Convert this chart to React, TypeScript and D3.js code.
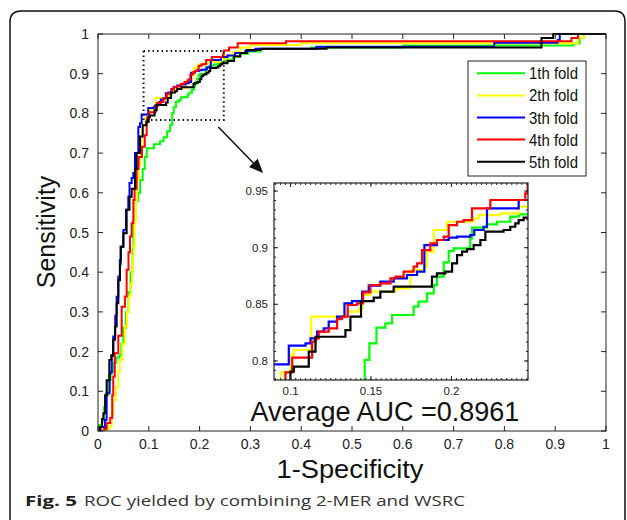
import React from 'react';
import * as d3 from 'd3';

// ROC points per fold: [1-specificity, sensitivity], drawn as steps
const fold1 = [
  [0, 0], [0.002, 0.015], [0.008, 0.025], [0.012, 0.06], [0.016, 0.09], [0.02, 0.128], [0.025, 0.15],
  [0.03, 0.172], [0.036, 0.185], [0.042, 0.19], [0.046, 0.22], [0.05, 0.26], [0.055, 0.3], [0.06, 0.35],
  [0.064, 0.4], [0.068, 0.46], [0.07, 0.53], [0.074, 0.58], [0.079, 0.6], [0.083, 0.632], [0.088, 0.66],
  [0.092, 0.69], [0.096, 0.712], [0.11, 0.722], [0.122, 0.73], [0.129, 0.74], [0.136, 0.755], [0.142, 0.771],
  [0.1461, 0.8009], [0.149, 0.8156], [0.1534, 0.8294], [0.1589, 0.8332], [0.1631, 0.8406], [0.1765, 0.8479],
  [0.1796, 0.8523], [0.1848, 0.8597], [0.189, 0.867], [0.191, 0.8744], [0.1952, 0.887], [0.1983, 0.897],
  [0.2014, 0.8994], [0.2117, 0.9082], [0.2128, 0.9177], [0.2221, 0.9206], [0.2283, 0.9229], [0.2366, 0.9274],
  [0.2418, 0.9294], [0.252, 0.935], [0.265, 0.942], [0.28, 0.95], [0.295, 0.956], [0.32, 0.962],
  [0.42, 0.966], [0.6, 0.971], [0.935, 0.976], [0.948, 0.99], [0.956, 1], [1, 1],
];
const fold2 = [
  [0, 0], [0.015, 0.005], [0.022, 0.012], [0.027, 0.04], [0.03, 0.078], [0.035, 0.11], [0.04, 0.15],
  [0.043, 0.179], [0.048, 0.22], [0.053, 0.263], [0.057, 0.3], [0.0604, 0.339], [0.064, 0.37], [0.067, 0.405],
  [0.069, 0.44], [0.07, 0.464], [0.072, 0.531], [0.0748, 0.582], [0.077, 0.632], [0.08, 0.67], [0.083, 0.718],
  [0.086, 0.752], [0.089, 0.775], [0.094, 0.79], [0.0999, 0.8053], [0.102, 0.8097], [0.1128, 0.8391],
  [0.1355, 0.8435], [0.1424, 0.8465], [0.1445, 0.8582], [0.1496, 0.8612], [0.1652, 0.8641], [0.1745, 0.8803],
  [0.1828, 0.8832], [0.1848, 0.8965], [0.189, 0.9156], [0.1972, 0.9229], [0.2138, 0.9259], [0.2169, 0.9288],
  [0.2304, 0.9303], [0.2418, 0.9362], [0.252, 0.945], [0.265, 0.955], [0.28, 0.966], [0.3, 0.972],
  [0.4, 0.977], [0.945, 0.99], [0.956, 1], [1, 1],
];
const fold3 = [
  [0, 0], [0.005, 0.01], [0.0138, 0.028], [0.017, 0.095], [0.023, 0.146], [0.027, 0.19], [0.03, 0.238],
  [0.034, 0.29], [0.0367, 0.338], [0.04, 0.389], [0.043, 0.43], [0.045, 0.464], [0.0499, 0.506],
  [0.0551, 0.557], [0.0597, 0.59], [0.062, 0.625], [0.0663, 0.637], [0.0696, 0.65], [0.0728, 0.7],
  [0.0794, 0.766], [0.0827, 0.775], [0.0859, 0.797], [0.0989, 0.8135], [0.1093, 0.8156], [0.1124, 0.82],
  [0.1165, 0.8259], [0.1206, 0.8288], [0.1237, 0.8347], [0.1289, 0.8391], [0.1335, 0.8509], [0.1382, 0.8529],
  [0.1445, 0.8612], [0.1486, 0.8665], [0.1558, 0.87], [0.1641, 0.8729], [0.1724, 0.8759], [0.1786, 0.8788],
  [0.1832, 0.9023], [0.191, 0.9068], [0.1983, 0.9088], [0.2035, 0.9097], [0.2117, 0.9112], [0.2142, 0.9156],
  [0.22, 0.9185], [0.2221, 0.9347], [0.2418, 0.9421], [0.255, 0.946], [0.27, 0.952], [0.29, 0.958],
  [0.31, 0.963], [0.43, 0.968], [0.78, 0.978], [0.905, 0.985], [0.909, 1], [1, 1],
];
const fold4 = [
  [0, 0], [0.012, 0.005], [0.017, 0.02], [0.024, 0.033], [0.028, 0.09], [0.03, 0.137], [0.033, 0.196],
  [0.04, 0.24], [0.0466, 0.313], [0.053, 0.339], [0.0564, 0.406], [0.06, 0.45], [0.063, 0.49], [0.0663, 0.523],
  [0.0696, 0.582], [0.072, 0.61], [0.0761, 0.66], [0.08, 0.69], [0.0865, 0.716], [0.092, 0.745], [0.0958, 0.775],
  [0.0968, 0.79], [0.101, 0.8029], [0.1134, 0.817], [0.1155, 0.82], [0.1175, 0.8259], [0.1237, 0.8288],
  [0.1289, 0.837], [0.132, 0.8391], [0.1355, 0.8494], [0.1413, 0.8509], [0.1451, 0.8606], [0.1496, 0.867],
  [0.1558, 0.8685], [0.1621, 0.8729], [0.1652, 0.8744], [0.1703, 0.8788], [0.1765, 0.8832], [0.1786, 0.8862],
  [0.1817, 0.8979], [0.1869, 0.9038], [0.191, 0.9068], [0.1952, 0.9097], [0.1983, 0.92], [0.2035, 0.9229],
  [0.2076, 0.9244], [0.2128, 0.9347], [0.2242, 0.9421], [0.2459, 0.948], [0.2474, 0.9583], [0.258, 0.966],
  [0.275, 0.977], [0.37, 0.982], [0.932, 0.99], [0.945, 1], [1, 1],
];
const fold5 = [
  [0, 0], [0.004, 0.01], [0.008, 0.03], [0.0105, 0.0445], [0.014, 0.09], [0.017, 0.128], [0.0223, 0.179],
  [0.0262, 0.19], [0.03, 0.23], [0.0335, 0.263], [0.0367, 0.322], [0.04, 0.38], [0.0433, 0.42], [0.0446, 0.464],
  [0.0499, 0.498], [0.0564, 0.557], [0.062, 0.59], [0.0663, 0.61], [0.0728, 0.66], [0.0761, 0.7], [0.0827, 0.742],
  [0.088, 0.77], [0.095, 0.779], [0.0999, 0.7906], [0.102, 0.795], [0.1113, 0.8082], [0.1155, 0.8214],
  [0.1341, 0.8273], [0.1372, 0.8391], [0.1438, 0.8529], [0.1517, 0.8559], [0.1558, 0.8612], [0.1641, 0.8656],
  [0.1879, 0.8744], [0.191, 0.8773], [0.1962, 0.8788], [0.2004, 0.8862], [0.2035, 0.8935], [0.2066, 0.8965],
  [0.2097, 0.8988], [0.2138, 0.9023], [0.218, 0.9068], [0.2211, 0.9141], [0.2324, 0.9156], [0.2366, 0.9185],
  [0.2397, 0.9215], [0.2418, 0.9244], [0.2449, 0.9265], [0.255, 0.932], [0.268, 0.944], [0.28, 0.952],
  [0.293, 0.96], [0.32, 0.963], [0.45, 0.966], [0.873, 0.99], [0.896, 1], [1, 1],
];

const foldNames = ['1th fold', '2th fold', '3th fold', '4th fold', '5th fold'];
const foldColors = ['#00ff00', '#ffff00', '#0000ff', '#ff0000', '#000000'];
const folds = [fold1, fold2, fold3, fold4, fold5];

const axisTicks = [0, 0.1, 0.2, 0.3, 0.4, 0.5, 0.6, 0.7, 0.8, 0.9, 1];
const insetXTicks = [0.1, 0.15, 0.2];
const insetYTicks = [0.8, 0.85, 0.9, 0.95];
const insetXDomain = [0.0897, 0.2476];
const insetYDomain = [0.7832, 0.9571];
const aucText = 'Average AUC =0.8961';

const FONT = '"Liberation Sans", Arial, sans-serif';
const CAPTION_FONT = '"Open Sans", "Noto Sans", sans-serif';

export default function App() {
  const x = d3.scaleLinear().domain([0, 1]).range([98, 606]);
  const y = d3.scaleLinear().domain([0, 1]).range([431, 34]);
  const ix = d3.scaleLinear().domain(insetXDomain).range([274, 528]);
  const iy = d3.scaleLinear().domain(insetYDomain).range([380, 183]);

  const mainLine = d3.line<number[]>().x(d => x(d[0])).y(d => y(d[1])).curve(d3.curveStepAfter);
  const insetLine = d3.line<number[]>().x(d => ix(d[0])).y(d => iy(d[1])).curve(d3.curveStepAfter);

  const fmt = (v: number) => String(+v.toFixed(2));

  // minor ticks on the inset frame
  const mxStep = 0.05 / 16;
  const myStep = 0.05 / 6;
  const minorX = d3.range(Math.ceil(insetXDomain[0] / mxStep), Math.floor(insetXDomain[1] / mxStep) + 1).map(k => k * mxStep);
  const minorY = d3.range(Math.ceil(insetYDomain[0] / myStep), Math.floor(insetYDomain[1] / myStep) + 1).map(k => k * myStep);

  // arrow from zoom box to inset
  const a0 = [x(0.237), y(0.766)];
  const a1 = [x(0.325), y(0.65)];
  const ang = Math.atan2(a1[1] - a0[1], a1[0] - a0[0]);
  const hl = 14, hw = 6;
  const hb = [a1[0] - hl * Math.cos(ang), a1[1] - hl * Math.sin(ang)];
  const head = [
    a1,
    [hb[0] + hw * Math.sin(ang), hb[1] - hw * Math.cos(ang)],
    [hb[0] - hw * Math.sin(ang), hb[1] + hw * Math.cos(ang)],
  ];

  const zx0 = x(insetXDomain[0]);
  const zx1 = x(insetXDomain[1]);
  const zy0 = y(insetYDomain[1]);
  const zy1 = y(insetYDomain[0]);

  return (
    <svg width={627} height={520} style={{ position: 'absolute', left: 0, top: 0, background: '#fff' }}>
      <defs>
        <clipPath id="mainClip">
          <rect x={98} y={33} width={508} height={398} />
        </clipPath>
        <clipPath id="insetClip">
          <rect x={274} y={183} width={254} height={197} />
        </clipPath>
      </defs>

      {/* figure frame */}
      <path d="M10,520 V22 Q10,11 21,11 H615 Q625,11 625,22 V520" fill="none" stroke="#111" strokeWidth={1.5} />

      {/* main curves */}
      <g clipPath="url(#mainClip)">
        {folds.map((f, i) => (
          <path key={i} d={mainLine(f) || ''} fill="none" stroke={foldColors[i]} strokeWidth={2} />
        ))}
      </g>

      {/* main axes box and ticks */}
      <rect x={98} y={34} width={508} height={397} fill="none" stroke="#222" strokeWidth={1} />
      <g stroke="#222" strokeWidth={1}>
        {axisTicks.map(t => (
          <g key={t}>
            <line x1={x(t)} x2={x(t)} y1={431} y2={426} />
            <line x1={x(t)} x2={x(t)} y1={34} y2={39} />
            <line x1={98} x2={103} y1={y(t)} y2={y(t)} />
            <line x1={606} x2={601} y1={y(t)} y2={y(t)} />
          </g>
        ))}
      </g>
      <g fontFamily={FONT} fontSize={14} fill="#222">
        {axisTicks.map(t => (
          <text key={'x' + t} x={x(t)} y={449} textAnchor="middle">{fmt(t)}</text>
        ))}
        {axisTicks.map(t => (
          <text key={'y' + t} x={89} y={y(t) + 5} textAnchor="end">{fmt(t)}</text>
        ))}
      </g>
      <text x={350} y={478} textAnchor="middle" fontFamily={FONT} fontSize={25} textLength={147} lengthAdjust="spacingAndGlyphs" fill="#111">1-Specificity</text>
      <text transform="translate(55,232) rotate(-90)" textAnchor="middle" fontFamily={FONT} fontSize={25} fill="#111">Sensitivity</text>

      {/* zoom box */}
      <rect x={zx0} y={zy0} width={zx1 - zx0} height={zy1 - zy0}
        fill="none" stroke="#111" strokeWidth={2} strokeDasharray="1.5,3" />

      {/* arrow */}
      <line x1={a0[0]} y1={a0[1]} x2={hb[0]} y2={hb[1]} stroke="#111" strokeWidth={1.5} />
      <polygon points={head.map(p => p.join(',')).join(' ')} fill="#111" />

      {/* inset */}
      <rect x={274} y={183} width={254} height={197} fill="#fff" />
      <g clipPath="url(#insetClip)">
        {folds.map((f, i) => (
          <path key={i} d={insetLine(f) || ''} fill="none" stroke={foldColors[i]} strokeWidth={2.2} />
        ))}
      </g>
      <rect x={274} y={183} width={254} height={197} fill="none" stroke="#222" strokeWidth={1.2} />
      <g stroke="#222" strokeWidth={1}>
        {minorX.map((t, i) => (
          <g key={'mx' + i}>
            <line x1={ix(t)} x2={ix(t)} y1={183} y2={185} />
            <line x1={ix(t)} x2={ix(t)} y1={380} y2={378} />
          </g>
        ))}
        {minorY.map((t, i) => (
          <g key={'my' + i}>
            <line x1={274} x2={276} y1={iy(t)} y2={iy(t)} />
            <line x1={528} x2={526} y1={iy(t)} y2={iy(t)} />
          </g>
        ))}
        {insetXTicks.map(t => (
          <g key={'ix' + t}>
            <line x1={ix(t)} x2={ix(t)} y1={183} y2={187} />
            <line x1={ix(t)} x2={ix(t)} y1={380} y2={376} />
          </g>
        ))}
        {insetYTicks.map(t => (
          <g key={'iy' + t}>
            <line x1={274} x2={278} y1={iy(t)} y2={iy(t)} />
            <line x1={528} x2={524} y1={iy(t)} y2={iy(t)} />
          </g>
        ))}
      </g>
      <g fontFamily={FONT} fontSize={11.5} fill="#222">
        {insetXTicks.map(t => (
          <text key={'ixl' + t} x={ix(t)} y={395} textAnchor="middle">{fmt(t)}</text>
        ))}
        {insetYTicks.map(t => (
          <text key={'iyl' + t} x={268} y={iy(t) + 4} textAnchor="end">{fmt(t)}</text>
        ))}
      </g>

      {/* AUC annotation */}
      <text x={x(0.3)} y={421} fontFamily={FONT} fontSize={27} fill="#111">{aucText}</text>

      {/* legend */}
      <rect x={468} y={61} width={118} height={115} fill="#fff" stroke="#222" strokeWidth={1} />
      {foldNames.map((n, i) => {
        const ly = 73.3 + i * 22.1;
        return (
          <g key={n}>
            <line x1={477} x2={525} y1={ly} y2={ly} stroke={foldColors[i]} strokeWidth={2} />
            <text x={529} y={ly + 6} fontFamily={FONT} fontSize={17} textLength={49} lengthAdjust="spacingAndGlyphs" fill="#111">{n}</text>
          </g>
        );
      })}

      {/* caption */}
      <text x={25} y={506} fontFamily={CAPTION_FONT} fontSize={15} fontWeight="bold" fill="#222" textLength={52} lengthAdjust="spacingAndGlyphs">Fig. 5</text>
      <text x={84} y={506} fontFamily={CAPTION_FONT} fontSize={15} fill="#333" textLength={381} lengthAdjust="spacingAndGlyphs">ROC yielded by combining 2-MER and WSRC</text>
    </svg>
  );
}
